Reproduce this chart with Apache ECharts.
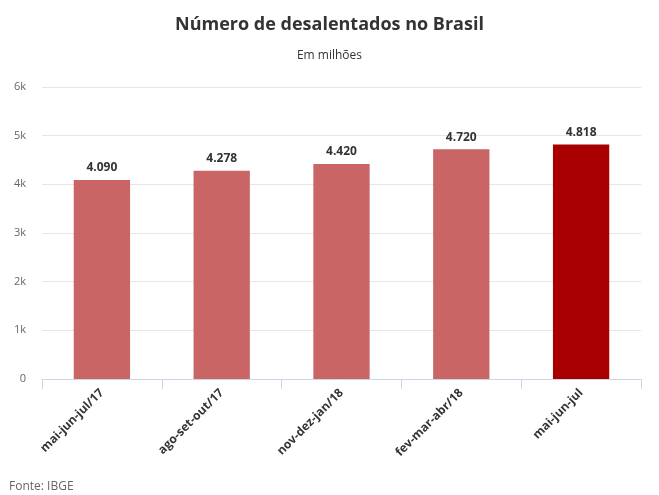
<!DOCTYPE html>
<html>
<head>
  <meta charset="utf-8">
  <title>Número de desalentados no Brasil</title>
  <script src="https://cdn.jsdelivr.net/npm/echarts@6.0.0/dist/echarts.min.js"></script>
  <style>
    html, body { margin: 0; padding: 0; background: #fff; }
    #chart { width: 659px; height: 495px; }
  </style>
</head>
<body>
<div id="chart"></div>
<script>
var categories = ["mai-jun-jul/17", "ago-set-out/17", "nov-dez-jan/18", "fev-mar-abr/18", "mai-jun-jul"];
var values = [4090, 4278, 4420, 4720, 4818];
var barColors = ["#c96565", "#c96565", "#c96565", "#c96565", "#a80000"];

function fmt(v) {
    var s = String(v);
    return s.slice(0, s.length - 3) + "." + s.slice(s.length - 3);
}

var myChart = echarts.init(document.getElementById("chart"));
var option = {
    animation: false,
    textStyle: { fontFamily: "Open Sans" },
    title: [{
        text: "Número de desalentados no Brasil",
        subtext: "Em milhões",
        left: "center",
        top: 11,
        itemGap: 16,
        textStyle: { fontSize: 18, fontWeight: "bold", color: "#333" },
        subtextStyle: { fontSize: 12, color: "#333" }
    }, {
        text: "Fonte: IBGE",
        left: 4,
        top: 476,
        textStyle: { fontSize: 12, fontWeight: "normal", color: "#666" }
    }],
    grid: { left: 42, right: 18, top: 87, bottom: 116 },
    xAxis: {
        type: "category",
        data: categories,
        axisLine: { lineStyle: { color: "#ccd6eb" } },
        axisTick: { show: true, length: 10, lineStyle: { color: "#ccd6eb" } },
        axisLabel: {
            rotate: 45,
            interval: 0,
            margin: 12,
            color: "#333",
            fontWeight: "bold",
            fontSize: 12
        }
    },
    yAxis: {
        type: "value",
        min: 0,
        max: 6000,
        interval: 1000,
        axisLabel: {
            color: "#666",
            fontSize: 11,
            margin: 16,
            formatter: function(v) { return v === 0 ? "0" : (v / 1000) + "k"; }
        },
        splitLine: { lineStyle: { color: "#e6e6e6" } }
    },
    series: [{
        type: "bar",
        barWidth: "47%",
        data: values.map(function(v, i) {
            return { value: v, itemStyle: { color: barColors[i] } };
        }),
        label: {
            show: true,
            position: "top",
            distance: 6,
            color: "#333",
            fontWeight: "bold",
            fontSize: 12,
            formatter: function(p) { return fmt(p.value); }
        }
    }]
};
myChart.setOption(option);
</script>
</body>
</html>
